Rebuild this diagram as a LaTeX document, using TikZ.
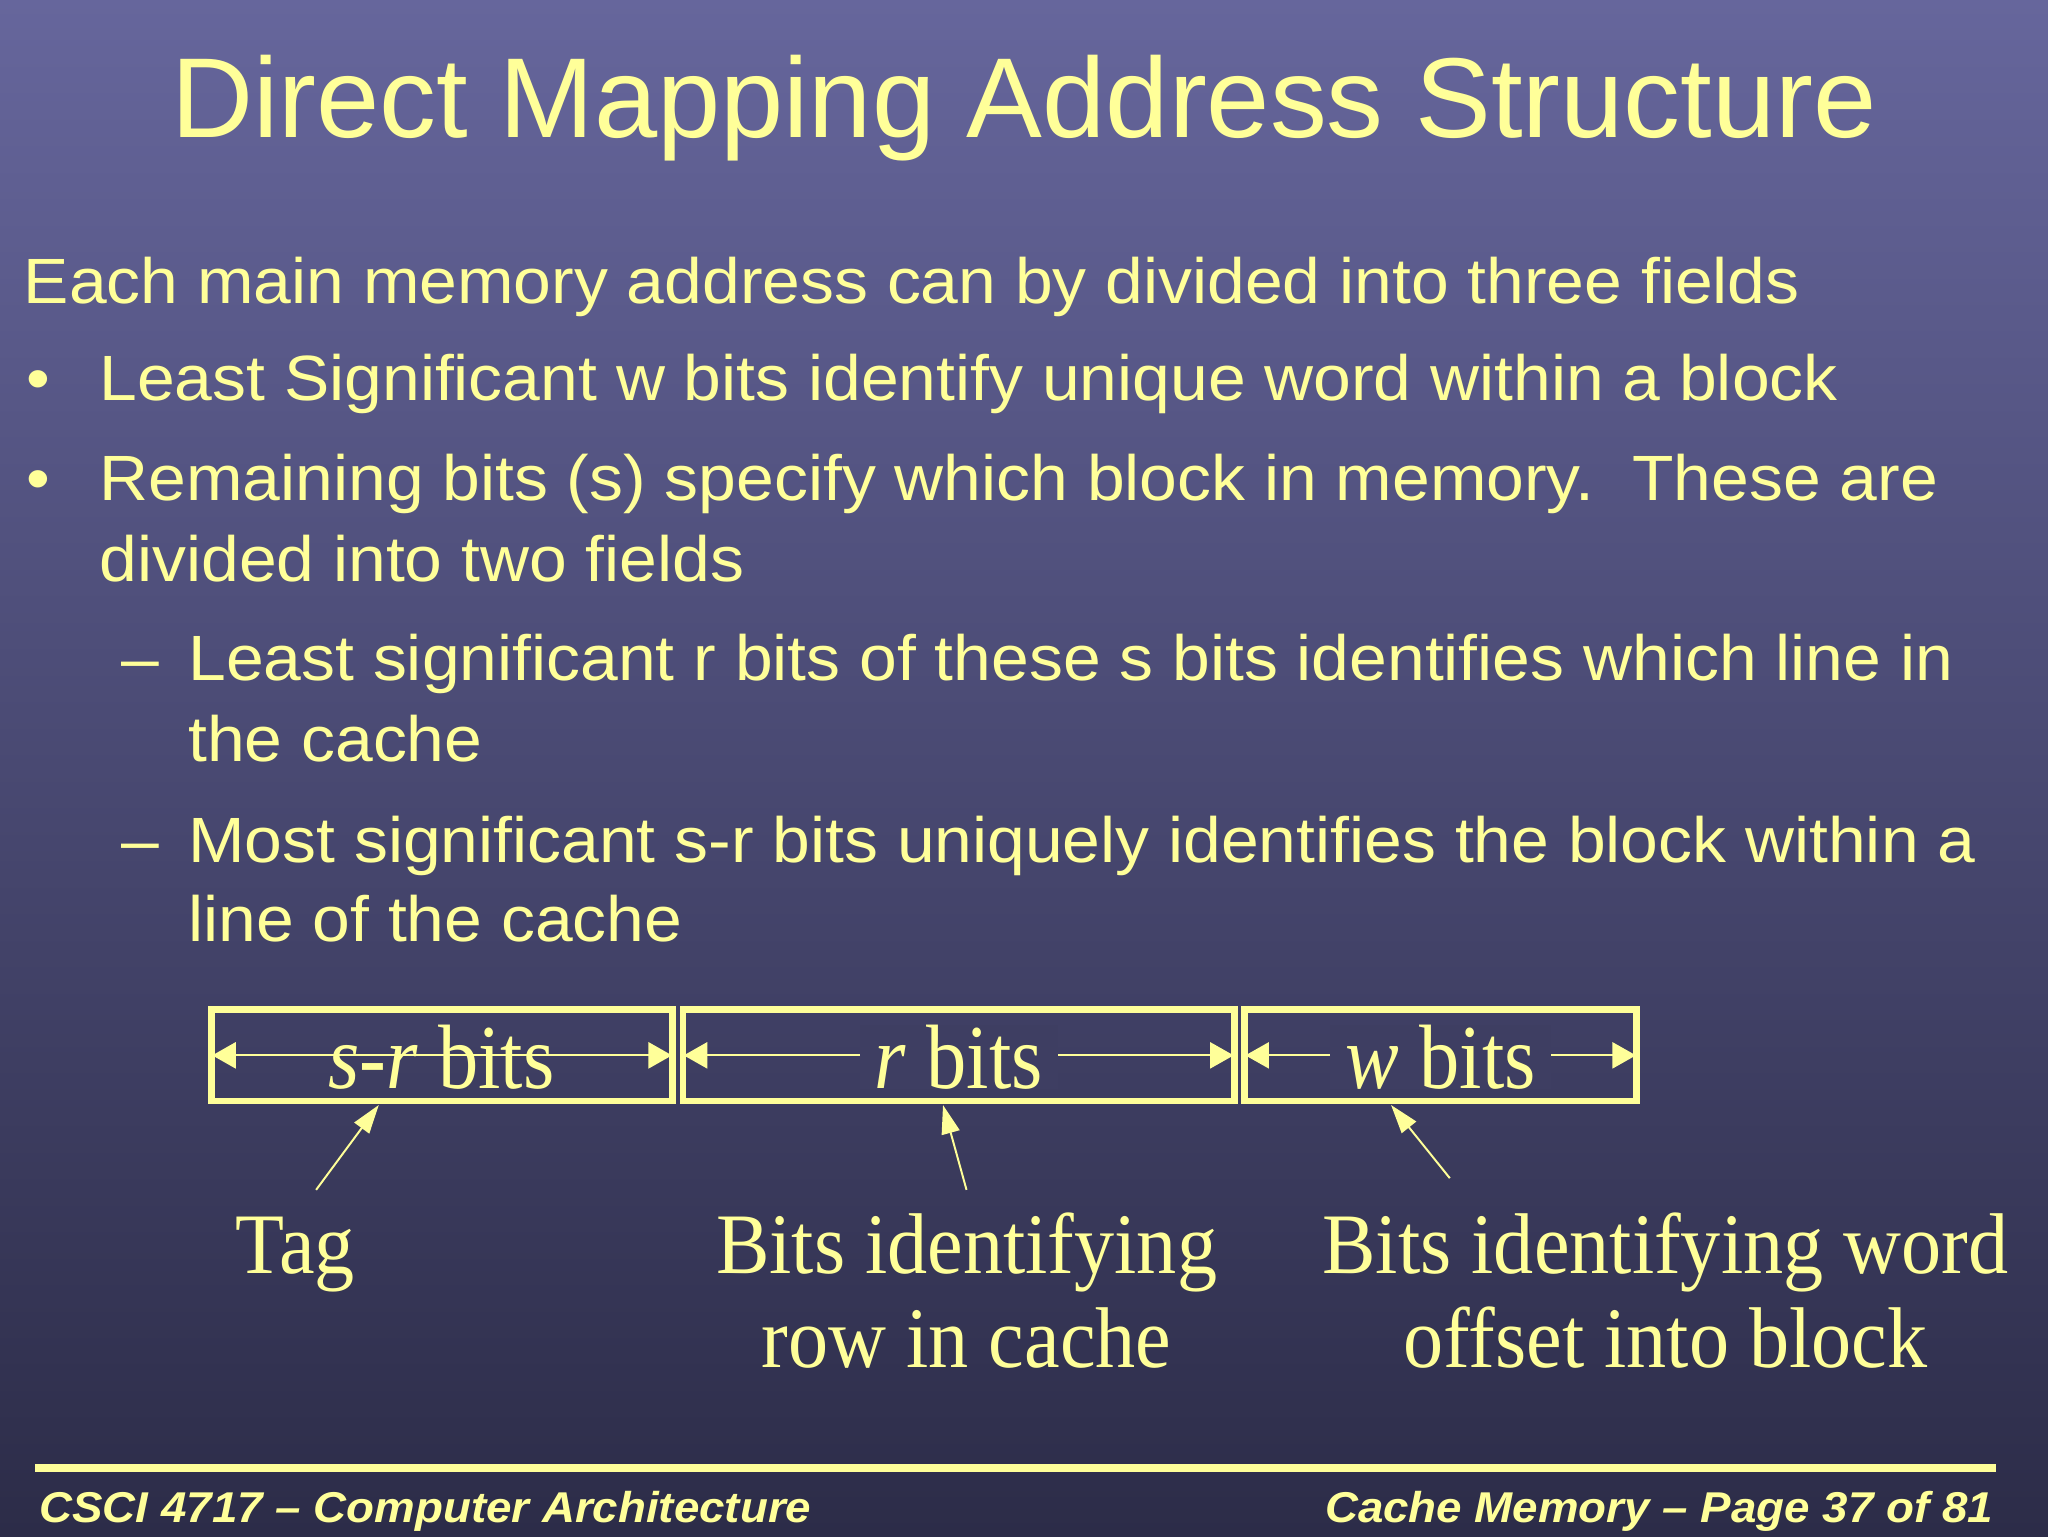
\documentclass[tikz,border=0pt]{standalone}
\usepackage{fontspec}
\setmainfont{Liberation Serif}
\newfontfamily\sans[FakeStretch=1.06]{Liberation Sans}
\newfontfamily\tsans{Liberation Sans}
\newfontfamily\cserif[FakeStretch=0.88]{Liberation Serif}
\newfontfamily\lserif[FakeStretch=0.93]{Liberation Serif}
\usetikzlibrary{arrows.meta}
\definecolor{ylw}{HTML}{FFFF99}
\definecolor{bgtop}{HTML}{66669C}
\definecolor{bgbot}{HTML}{2C2C48}
\colorlet{boxbg}{bgbot!69!bgtop}
\begin{document}
\begin{tikzpicture}[x=1pt,y=-1pt,
  txt/.style={anchor=base west,inner sep=0,text=ylw,font=\sans\fontsize{49}{52}\selectfont},
  fld/.style={draw=ylw,line width=5pt,minimum height=70pt,inner sep=0},
  dim/.style={ylw,line width=1.5pt,{Triangle[length=18pt,width=20pt]}-{Triangle[length=18pt,width=20pt]}},
  ftxt/.style={inner sep=0,text=ylw,font=\cserif\fontsize{70}{70}\selectfont},
  lab/.style={inner sep=0,text=ylw,align=center,font=\lserif\fontsize{66}{72}\selectfont},
  ptr/.style={ylw,line width=1.5pt,-{Triangle[length=22pt,width=14pt]}}]
\shade[top color=bgtop,bottom color=bgbot] (0,0) rectangle (1568,1176);
\useasboundingbox (0,0) rectangle (1568,1176);
\node[anchor=base,inner sep=0,text=ylw,font=\tsans\fontsize{87}{90}\selectfont] (title) at (784,105) {Direct Mapping Address Structure};
\node[txt] (l1) at (18,232) {Each main memory address can by divided into three fields};
\node[txt] (b1) at (20,307) {•};
\node[txt] (l2) at (76,307) {Least Significant w bits identify unique word within a block};
\node[txt] (b2) at (20,383) {•};
\node[txt] (l3) at (76,383) {Remaining bits (s) specify which block in memory.\ \ These are};
\node[txt] (l4) at (76,445) {divided into two fields};
\node[txt] (d1) at (93,521) {–};
\node[txt] (l5) at (144,521) {Least significant r bits of these s bits identifies which line in};
\node[txt] (l6) at (144,583) {the cache};
\node[txt] (d2) at (93,660) {–};
\node[txt] (l7) at (144,660) {Most significant s-r bits uniquely identifies the block within a};
\node[txt] (l8) at (144,721) {line of the cache};
% fields
\node[fld,minimum width=353pt] (f1) at (338.5,808) {};
\node[fld,minimum width=422pt] (f2) at (734,808) {};
\node[fld,minimum width=300pt] (f3) at (1103,808) {};
\draw[dim] ([xshift=3pt]f1.west) -- ([xshift=-3pt]f1.east);
\draw[dim] ([xshift=3pt]f2.west) -- ([xshift=-3pt]f2.east);
\draw[dim] ([xshift=3pt]f3.west) -- ([xshift=-3pt]f3.east);
\node[ftxt,anchor=base] (t1) at (338,833) {\textit{s-r} bits};
\node[ftxt,anchor=base,fill=boxbg] (t2) at (734,833) {\,\textit{r} bits\,};
\node[ftxt,anchor=base,fill=boxbg] (t3) at (1103,833) {\,\textit{w} bits\,};
% labels
\node[lab,anchor=base] (tag) at (226,975) {Tag};
\node[lab,anchor=base] (row) at (740,975) {Bits identifying};
\node[lab,anchor=base] (row2) at (740,1047) {row in cache};
\node[lab,anchor=base] (wd) at (1275,975) {Bits identifying word};
\node[lab,anchor=base] (wd2) at (1275,1047) {offset into block};
\coordinate (p1) at (242,911);
\coordinate (p2) at (740,911);
\coordinate (p3) at (1110,902);
\draw[ptr] (p1) -- (290,846);
\draw[ptr] (p2) -- (722,846);
\draw[ptr] (p3) -- (1065,846);
% footer
\draw[ylw,line width=6pt] (27,1124) coordinate (fa) -- (1528,1124) coordinate (fb);
\node[anchor=base west,inner sep=0,text=ylw,font=\sans\bfseries\itshape\fontsize{33}{34}\selectfont] (fl) at (30,1166) {CSCI 4717 – Computer Architecture};
\node[anchor=base east,inner sep=0,text=ylw,font=\sans\bfseries\itshape\fontsize{33}{34}\selectfont] (fr) at (1526,1166) {Cache Memory – Page 37 of 81};
\end{tikzpicture}
\end{document}
